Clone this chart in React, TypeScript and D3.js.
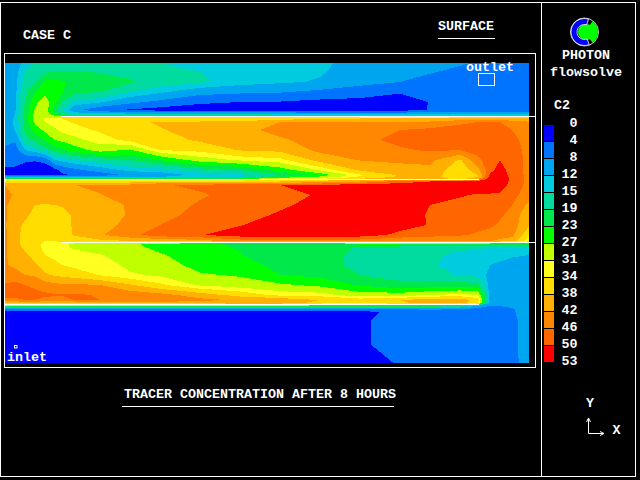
import React from 'react';
import * as d3 from 'd3';

// legend
const levels = [0, 4, 8, 12, 15, 19, 23, 27, 31, 34, 38, 42, 46, 50, 53];
const bandColors = ['#0000ff', '#0073ff', '#00a5f0', '#00cce0', '#00dca0', '#00e84a', '#00ff00', '#bfff00', '#ffff20', '#ffdd00', '#ffb000', '#ff8800', '#ff6600', '#ff0000'];

// grid stations of the solved field, along and across the channels
const stationsX = [5, 15, 25, 35, 45, 55, 62, 75, 100, 130, 160, 200, 240, 280, 320, 360, 400, 430, 460, 478, 490, 500, 512, 529];
const stationsY = [
  63, 72, 82, 92, 102, 110, 114, 116.5,
  118.5, 122, 130, 140, 150, 160, 170, 175, 177, 179,
  181.5, 185, 195, 205, 215, 225, 235, 241,
  244, 247, 255, 265, 275, 285, 295, 300, 303,
  306, 308, 310, 312, 320, 345, 363,
];

// C2, one list per x station, channel by channel
const channel1 = [
  [10, 10, 10, 10, 10, 10, 10, 10],
  [10.5, 10.5, 11, 11, 11.5, 11.5, 12, 12.3],
  [13, 15, 16, 18, 19, 20, 20.5, 20.5],
  [15.5, 16.5, 19, 22.5, 26, 27.5, 28, 29],
  [16, 18.5, 24, 26, 29, 29.5, 30, 30.5],
  [16.5, 19.5, 24, 26, 24.5, 21, 23, 29],
  [16.5, 19.5, 23.5, 23.5, 19, 15, 19, 28],
  [16.5, 19.5, 21.5, 20, 14, 9, 14, 26],
  [16.5, 18.7, 21, 19, 12.5, 5, 14, 26],
  [16, 18, 19.5, 15, 9, 3.5, 13, 26],
  [15, 16.5, 17, 12.6, 7, 2.5, 13, 26],
  [14, 15, 15.5, 9.5, 4.5, 2.5, 13, 26],
  [14, 14, 13.5, 8.7, 4, 2.5, 13, 26],
  [13.5, 13.5, 12.5, 8.3, 3.8, 2, 12, 26],
  [12.5, 12.3, 11.7, 7, 3, 2, 11, 24],
  [11, 10.5, 9.5, 5.5, 3, 2, 11, 24],
  [10.5, 9.5, 8, 4.3, 2.5, 2.5, 11, 24],
  [9, 8.3, 6.5, 4.2, 4.1, 4.2, 11, 24],
  [8.5, 7, 6, 5.5, 5, 5, 11, 22],
  [7.5, 6.5, 6, 5.5, 5.5, 5.5, 11, 22],
  [7, 6.5, 6, 6, 6, 6, 11, 22],
  [7, 6.5, 6, 6, 6, 6, 11, 22],
  [7, 6.5, 6, 6, 6, 6, 11, 22],
  [7, 6.5, 6, 6, 6, 6, 10, 22],
];
const channel2 = [
  [10.5, 10.5, 10, 9.5, 7, 5.5, 3.5, 4, 14, 26],
  [12.3, 12.3, 12.3, 8.5, 6, 5, 3.5, 3.5, 14, 26],
  [20.5, 20, 20, 17, 12, 4.5, 2.5, 3.5, 14, 26],
  [29, 28, 24.6, 20, 14, 4.3, 2, 3.5, 14, 26],
  [31.3, 31, 28, 23.5, 17, 5.5, 1, 3, 14, 26],
  [33, 33, 30.3, 27, 21, 12, 3, 3, 14, 26],
  [34, 33.5, 32, 28, 22, 13, 5, 3.5, 14, 26],
  [34.5, 34.3, 33, 30, 25, 15, 7, 4.5, 13, 26],
  [36, 35.5, 34.5, 32.5, 29, 17, 10, 5.5, 12, 26],
  [36, 37, 37, 35, 26.5, 19, 13, 9, 12, 26],
  [35, 38.5, 37.7, 36, 34, 23, 13.5, 10, 12, 26],
  [35, 38.5, 39.5, 38.7, 35, 29, 17, 13, 13, 26],
  [35, 39, 40.5, 40, 38.3, 31.6, 19, 14, 14, 26],
  [36, 42, 43.5, 41.3, 39, 33, 25, 19, 23, 34],
  [37, 42, 44, 44, 43, 39.5, 31.5, 24.5, 28, 34.5],
  [38, 42, 44.8, 45, 44, 42.2, 38.7, 33.5, 34.5, 38.5],
  [39, 42, 46, 47, 45.5, 43, 40, 38.5, 38.5, 39],
  [39, 42.5, 47, 48, 46.5, 43, 41, 40.5, 40, 40],
  [39, 45, 48, 48.5, 46, 37.5, 35, 34.5, 35, 37],
  [39, 46, 48.5, 48.5, 47.5, 45, 41, 38, 38, 42],
  [40, 46, 48.5, 49, 49, 48.5, 48.5, 50.5, 52, 53],
  [40, 46, 48.5, 49, 49.5, 50, 52, 53.5, 54, 54],
  [40, 43, 46, 47.5, 48, 48, 48, 48, 48.5, 48.5],
  [38, 42.5, 43, 44, 44.5, 45, 45, 45, 45, 45],
];
const channel3 = [
  [36, 42, 42.5, 42.5, 42.5, 42.5, 42.5, 42.5],
  [36, 41, 41.8, 40.5, 39.5, 39, 39.5, 39.5],
  [36, 42, 41, 39.5, 38.7, 37.5, 36.5, 36.5],
  [36, 42, 40, 38, 37, 36, 36, 35.5],
  [36, 42, 40, 37.8, 36.5, 36, 35, 34],
  [36, 42, 40, 38, 36.5, 36, 35.5, 34],
  [36, 42, 40, 38.5, 36, 35.5, 36, 38],
  [36, 42, 41, 40, 39, 39, 38.5, 35],
  [36, 43, 41.8, 40, 39.5, 40, 41.5, 37],
  [36, 43, 44, 42.5, 42.5, 43.5, 45, 38],
  [38, 45.5, 44.5, 44, 44.5, 46, 48, 39],
  [38, 47, 45.5, 46.5, 47.5, 48.5, 49.8, 40],
  [38, 48, 47.5, 48, 48.8, 49.8, 52, 44],
  [38, 50, 49, 49.5, 50.4, 52, 53, 44],
  [39, 51, 50.3, 51, 52, 53, 53.5, 44],
  [42, 52, 52, 52.5, 53, 53, 52, 44],
  [48, 52, 52, 51.3, 51, 51.5, 49, 42],
  [50, 52, 51.5, 50, 49.8, 49.8, 47.5, 42],
  [51, 52, 50.5, 48.5, 47.5, 47, 46.5, 42],
  [52, 53, 49.5, 47, 47, 47, 45.5, 42],
  [53, 53, 49.5, 47, 46.8, 46.5, 45, 42],
  [53.5, 53, 49, 46.8, 46.5, 45.5, 44, 41],
  [48.5, 48, 47.5, 46, 45, 44, 43, 40],
  [45, 45, 43.5, 41, 38.5, 38.5, 35, 32],
];
const channel4 = [
  [42.5, 42.5, 42.5, 42.5, 43, 46.5, 48, 45, 39],
  [40, 40, 40, 41, 44, 47, 48, 44.5, 39],
  [36, 37, 38.8, 40.5, 42, 46, 48, 46, 39],
  [35.5, 35.5, 36.5, 38.5, 41.5, 45, 47.5, 46, 39],
  [33, 33, 34, 36.5, 38.5, 44, 46.7, 45, 38],
  [32.5, 32.5, 33, 35, 37.5, 43, 46.3, 45, 38],
  [32, 31.5, 32.5, 34, 37, 42.5, 46.2, 45, 38],
  [30, 30.5, 32, 33, 36, 42.7, 46.5, 46, 38],
  [29, 28, 31.3, 33, 33.8, 42, 45.7, 46, 38],
  [28, 28.5, 29, 30, 31.5, 38.5, 44.5, 46, 39],
  [25, 25.5, 27.5, 29, 30.5, 34.7, 43.5, 45.5, 40],
  [24, 24, 24.5, 25.5, 27.5, 30.5, 40, 43, 40],
  [22, 22.7, 23.2, 25, 26.5, 29.3, 36.5, 41.5, 41],
  [23, 20, 20.5, 21.5, 23, 27.7, 33, 41, 41],
  [23, 21, 20.5, 20.5, 22, 26, 32.5, 38, 36],
  [24, 18.5, 18, 18, 19, 22.5, 29, 36, 34],
  [24, 18, 17, 17, 17.5, 20, 29, 38, 37],
  [24, 17, 16, 15.5, 17, 20.5, 31, 40, 40],
  [24, 16, 14, 13.5, 14.5, 21, 32, 40.5, 40.5],
  [24, 15.5, 14, 13.2, 14, 20, 31, 36, 34],
  [24, 15, 13.5, 12, 11, 10.5, 10.5, 10.5, 10],
  [24, 14.5, 13, 11.5, 10.5, 10, 10, 10, 9],
  [24, 14, 12.5, 10.5, 10, 10, 10, 10, 9],
  [24, 13.5, 12, 11, 10, 10, 10, 10, 9],
];
const channel5 = [
  [25, 12, 5, 2.5, 2, 2, 2],
  [25, 12, 5, 2.5, 2, 2, 2],
  [25, 12, 5, 2.5, 2, 2, 2],
  [25, 12, 5, 2.5, 2, 2, 2],
  [25, 12, 5, 2.5, 2, 2, 2],
  [25, 12, 5, 2.5, 2, 2, 2],
  [25, 12, 5, 2.5, 2, 2, 2],
  [25, 12, 5, 2.5, 2, 2, 2],
  [25, 12, 5, 2.5, 2, 2, 2],
  [25, 12, 5, 2.5, 2, 2, 2],
  [25, 12, 5, 2.5, 2, 2, 2],
  [25, 12, 5, 2.5, 2, 2, 2],
  [25, 12, 5, 2.5, 2, 2, 2],
  [25, 12, 5, 2.5, 2, 2, 2],
  [25, 12, 5, 2.5, 2.5, 2.5, 2],
  [25, 12, 5, 3, 3.4, 3.4, 2.5],
  [25, 12, 6, 5, 5.5, 5.5, 4.3],
  [24, 12, 7, 5.5, 5.5, 5.5, 5.5],
  [18, 10, 7, 6, 6, 6, 6],
  [12, 8, 7, 6.5, 6, 6, 6],
  [8, 7.5, 7, 7, 6.5, 6, 6],
  [8, 7.5, 7, 7, 6.5, 6.5, 6.5],
  [9, 8, 7.5, 7.5, 7, 7, 7],
  [10, 10, 10, 10, 10, 10, 9.5],
];

// baffles: [x from, x to, y]
const baffles = [
  [61, 535, 116.5],
  [5, 479, 179.5],
  [61, 535, 242.5],
  [5, 479, 304.5],
];

const mono = '"Liberation Mono", monospace';

const Label = ({ x, y, anchor, children }: { x: number; y: number; anchor?: string; children: React.ReactNode }) => (
  <text x={x} y={y} textAnchor={anchor ?? 'start'} fill="#fff" fontFamily={mono} fontSize={13.33} fontWeight="bold">
    {children}
  </text>
);

export default function App() {
  const nx = stationsX.length;
  const ny = stationsY.length;

  // row-major grid for d3.contours
  const columns = stationsX.map((_, i) => [...channel1[i], ...channel2[i], ...channel3[i], ...channel4[i], ...channel5[i]]);
  const values: number[] = [];
  for (let j = 0; j < ny; j++) {
    for (let i = 0; i < nx; i++) values.push(columns[i][j]);
  }

  // d3.contours puts sample i at i + 0.5
  const xScale = d3.scaleLinear().domain(stationsX.map((_, i) => i + 0.5)).range(stationsX).clamp(true);
  const yScale = d3.scaleLinear().domain(stationsY.map((_, j) => j + 0.5)).range(stationsY).clamp(true);

  const contourGen = d3.contours().size([nx, ny]).thresholds(levels.slice(0, -1).map((d, i) => (i === 0 ? -1 : d)));
  const bands = contourGen(values);
  const path = d3.geoPath(d3.geoTransform({
    point(x, y) {
      this.stream.point(xScale(x), yScale(y));
    },
  }));

  const legendY = d3.scaleLinear().domain([0, 1]).range([125, 142]);
  const labelY = d3.scaleLinear().domain([0, 1]).range([127, 144]);

  // logo: blue C round a green blob
  const blueArc = d3.arc()({ innerRadius: 7.5, outerRadius: 13.5, startAngle: 0.3, endAngle: -3.5 } as any);
  const greenArc = d3.arc()({ innerRadius: 0, outerRadius: 13.5, startAngle: 0.65, endAngle: 2.5 } as any);

  return (
    <svg width={640} height={480} style={{ position: 'fixed', left: 0, top: 0, background: '#000' }}>
      <rect x={0} y={0} width={640} height={480} fill="#000" />
      {/* outer frame */}
      <rect x={0.5} y={2.5} width={635} height={474} fill="none" stroke="#fff" />
      <line x1={541.5} x2={541.5} y1={2} y2={477} stroke="#fff" />
      {/* plot frame */}
      <rect x={4.5} y={53.5} width={531} height={314} fill="none" stroke="#fff" />

      <g shapeRendering="crispEdges">
        {bands.map((b, i) => (
          <path key={i} d={path(b as any) ?? ''} fill={bandColors[i]} />
        ))}
        {baffles.map((b, i) => (
          <line key={i} x1={b[0]} x2={b[1]} y1={b[2]} y2={b[2]} stroke="#fff" strokeWidth={1} />
        ))}
      </g>

      <Label x={23} y={39}>CASE C</Label>
      <Label x={438} y={30}>SURFACE</Label>
      <line x1={438} x2={495} y1={38.5} y2={38.5} stroke="#fff" />
      <Label x={124} y={398}>TRACER CONCENTRATION AFTER 8 HOURS</Label>
      <line x1={122} x2={394} y1={406.5} y2={406.5} stroke="#fff" />

      <Label x={466} y={71}>outlet</Label>
      <rect x={478.5} y={73.5} width={16} height={12} fill="none" stroke="#fff" />
      <Label x={7} y={361}>inlet</Label>
      <rect x={14.5} y={345.5} width={2.5} height={2.5} fill="#0000ff" stroke="#fff" />

      {/* logo */}
      <g transform="translate(584.5,32)">
        <circle r={14} fill="#000" stroke="#fff" strokeWidth={0.8} />
        <circle cx={1.5} r={8} fill="#00ff00" />
        <path d={greenArc ?? ''} fill="#00ff00" />
        <path d={blueArc ?? ''} fill="#0000ff" stroke="#fff" strokeWidth={0.8} />
      </g>
      <Label x={562} y={59}>PHOTON</Label>
      <Label x={550} y={76}>flowsolve</Label>
      <Label x={554} y={109}>C2</Label>

      {bandColors.map((c, i) => (
        <rect key={c} x={544} y={legendY(i)} width={10} height={16} fill={c} />
      ))}
      {levels.map((d, i) => (
        <Label key={d} x={577.5} y={labelY(i)} anchor="end">{d}</Label>
      ))}

      {/* axis triad */}
      <Label x={586} y={407}>Y</Label>
      <Label x={612.5} y={434}>X</Label>
      <path d="M588.5,419V433.5H603M586.5,422L588.5,418L590.5,422M600,431.5L604,433.5L600,435.5" fill="none" stroke="#fff" />
    </svg>
  );
}
